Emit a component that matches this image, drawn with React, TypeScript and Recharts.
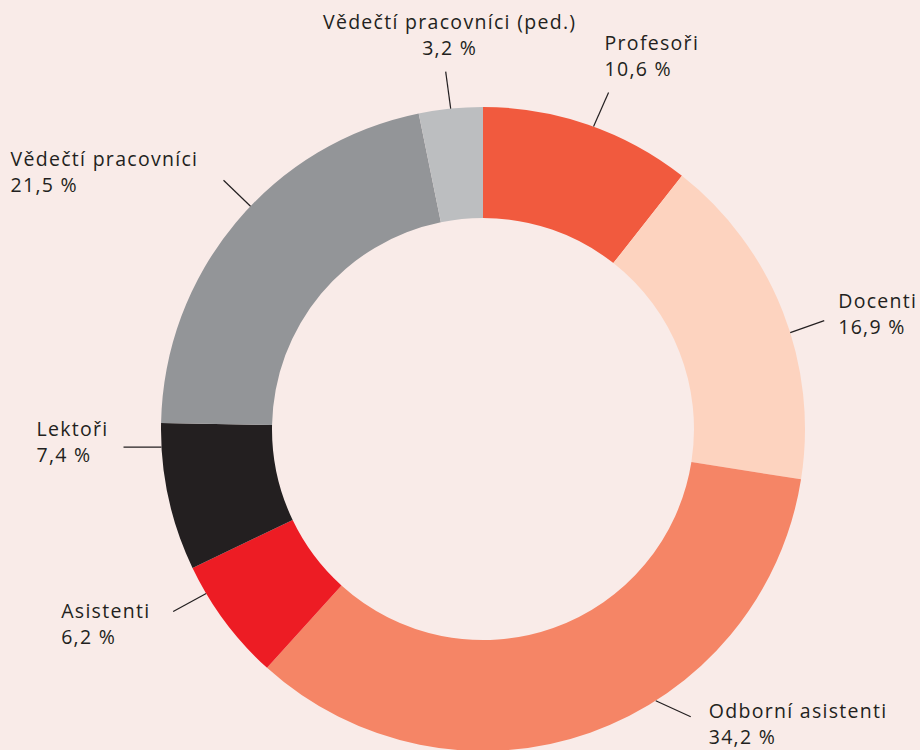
import React from 'react';
import { PieChart, Pie, Cell } from 'recharts';

const categories = [
  'Profesoři',
  'Docenti',
  'Odborní asistenti',
  'Asistenti',
  'Lektoři',
  'Vědečtí pracovníci',
  'Vědečtí pracovníci (ped.)',
];
const shares = [10.6, 16.9, 34.2, 6.2, 7.4, 21.5, 3.2];
const colors = ['#f15a3e', '#fdd3bf', '#f58566', '#ed1c24', '#231f20', '#939598', '#bcbec0'];

const data = categories.map((name, i) => ({ name, value: shares[i] }));

// hand placed leader lines: angle shift from slice middle (deg, clockwise),
// line vector, and text offset from the line end
const labelLayout = [
  { shift: 1, lx: 15, ly: -34, tx: -4, ty: -43, anchor: 'start' },
  { shift: 4, lx: 34, ly: -12, tx: 14, ty: -13, anchor: 'start' },
  { shift: -13, lx: 35, ly: 16, tx: 18, ty: 1, anchor: 'start' },
  { shift: 6, lx: -33, ly: 18, tx: -112, ty: 7, anchor: 'start' },
  { shift: 9, lx: -38, ly: 0, tx: -87, ty: -11, anchor: 'start' },
  { shift: 4, lx: -27, ly: -26, tx: -213, ty: -14, anchor: 'start' },
  { shift: 0, lx: -5, ly: -37, tx: 4, ty: -43, anchor: 'middle' },
];

const RAD = Math.PI / 180;
const FONT = '"Open Sans", Lato, sans-serif';
const LINE_GAP = 26;

const fmt = (v: number) => `${v.toFixed(1).replace('.', ',')} %`;

const renderLabel = (props: any) => {
  const { cx, cy, midAngle, outerRadius, index, name, value } = props;
  const lay = labelLayout[index];
  const angle = midAngle - lay.shift;
  const x0 = cx + Math.cos(-angle * RAD) * outerRadius;
  const y0 = cy + Math.sin(-angle * RAD) * outerRadius;
  const x1 = x0 + lay.lx;
  const y1 = y0 + lay.ly;
  const tx = x1 + lay.tx;
  const ty = y1 + lay.ty;
  const textProps = {
    textAnchor: lay.anchor,
    fill: '#231f20',
    fontFamily: FONT,
    fontSize: 19.5,
    letterSpacing: 1.3,
  };
  return (
    <g key={`lbl-${index}`}>
      <line x1={x0} y1={y0} x2={x1} y2={y1} stroke="#231f20" strokeWidth={1.2} />
      <text x={tx} y={ty} {...textProps}>{name}</text>
      <text x={tx} y={ty + LINE_GAP} {...textProps}>{fmt(value)}</text>
    </g>
  );
};

export default function App() {
  document.body.style.margin = '0';
  return (
    <div style={{ width: 920, height: 750, background: '#f9ebe8', overflow: 'hidden' }}>
      <PieChart width={920} height={750} margin={{ top: 0, right: 0, bottom: 0, left: 0 }}>
        <Pie
          data={data}
          dataKey="value"
          nameKey="name"
          cx={483}
          cy={429}
          innerRadius={211}
          outerRadius={322}
          startAngle={90}
          endAngle={-270}
          stroke="none"
          label={renderLabel}
          labelLine={false}
          isAnimationActive={false}
        >
          {data.map((d, i) => (
            <Cell key={d.name} fill={colors[i]} />
          ))}
        </Pie>
      </PieChart>
    </div>
  );
}
